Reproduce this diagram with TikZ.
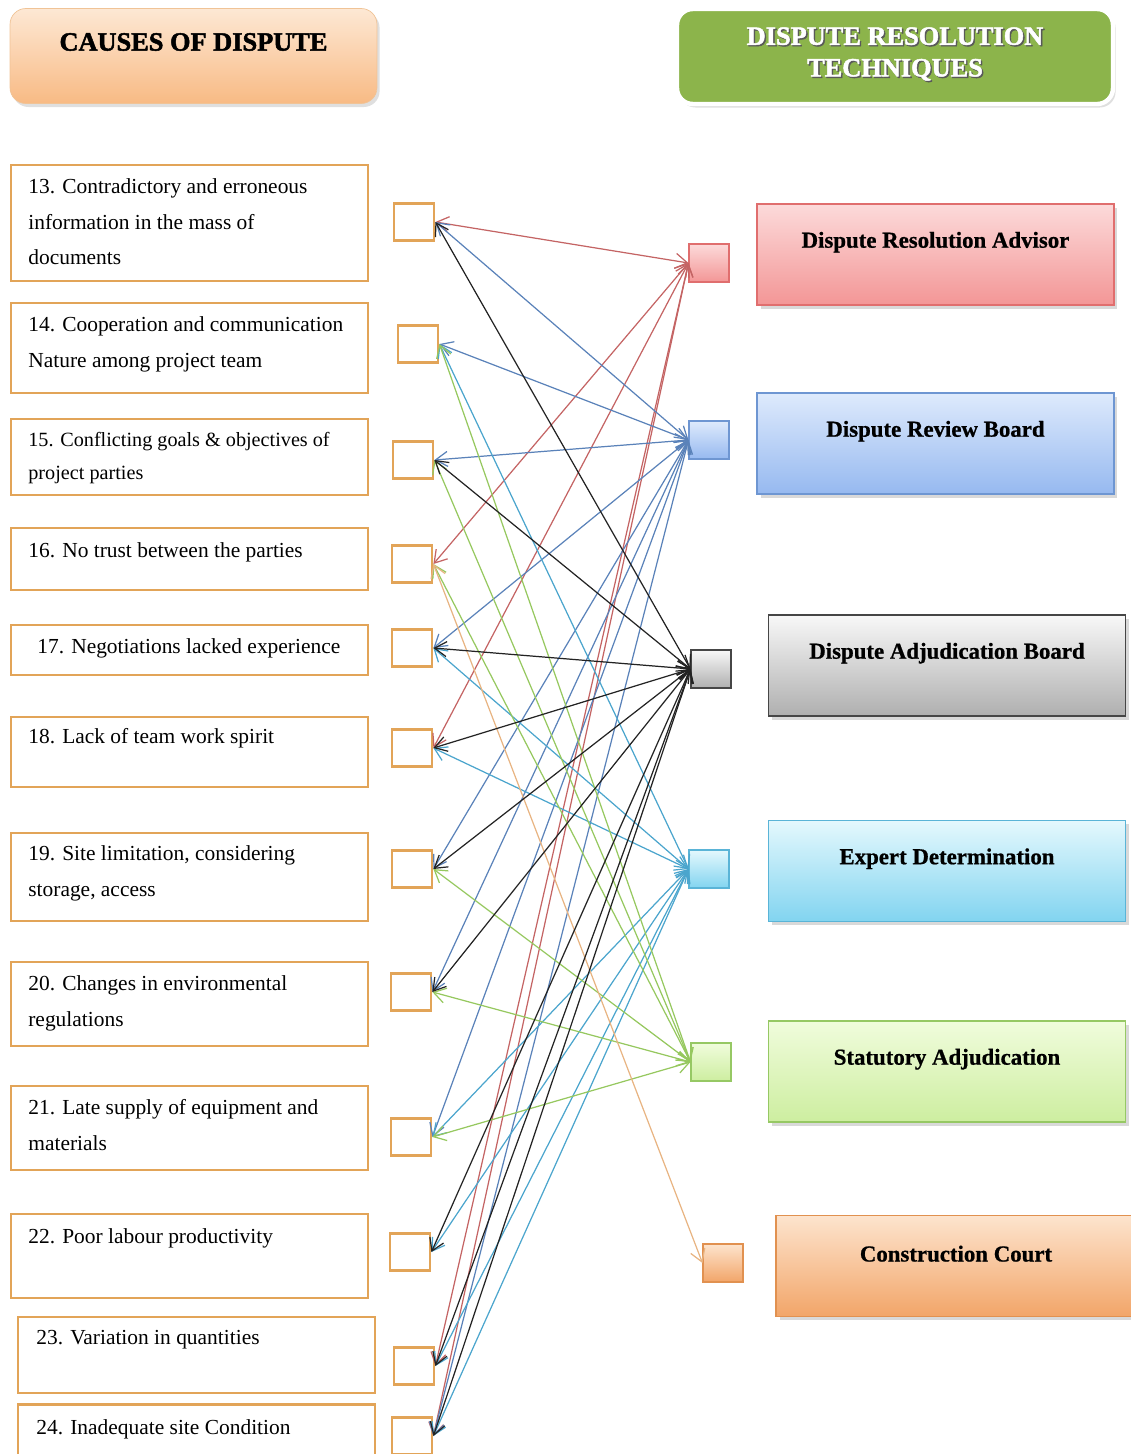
\documentclass[tikz,border=0pt]{standalone}
\usepackage{fontspec}
\setmainfont{Liberation Serif}
\newfontfamily\heavyfont{Liberation Serif}[BoldFeatures={FakeBold=1.8}]
\newfontfamily\boldish{Liberation Serif}[BoldFeatures={FakeBold=0.8}]
\usepackage{xcolor}
\usetikzlibrary{arrows.meta,shadows}

% box colours: line / top / bottom, plus the connector colour
\definecolor{causeor}{RGB}{226,164,88}
\definecolor{hdrlline}{RGB}{240,195,150}
\definecolor{hdrltop}{RGB}{253,232,212}
\definecolor{hdrlbot}{RGB}{248,186,132}
\definecolor{hdrr}{RGB}{140,180,75}
\definecolor{draline}{RGB}{224,110,110}
\definecolor{dratop}{RGB}{252,218,218}
\definecolor{drabot}{RGB}{243,150,150}
\definecolor{dralink}{RGB}{196,100,100}
\definecolor{drbline}{RGB}{110,150,210}
\definecolor{drbtop}{RGB}{222,234,252}
\definecolor{drbbot}{RGB}{150,185,240}
\definecolor{drblink}{RGB}{90,130,185}
\definecolor{dabline}{RGB}{70,70,70}
\definecolor{dabtop}{RGB}{248,248,248}
\definecolor{dabbot}{RGB}{175,175,175}
\definecolor{dablink}{RGB}{35,35,35}
\definecolor{edline}{RGB}{90,180,215}
\definecolor{edtop}{RGB}{228,248,253}
\definecolor{edbot}{RGB}{130,212,240}
\definecolor{edlink}{RGB}{75,165,205}
\definecolor{saline}{RGB}{150,200,100}
\definecolor{satop}{RGB}{240,252,220}
\definecolor{sabot}{RGB}{205,238,160}
\definecolor{salink}{RGB}{150,200,95}
\definecolor{ccline}{RGB}{225,145,80}
\definecolor{cctop}{RGB}{253,228,205}
\definecolor{ccbot}{RGB}{242,165,105}
\definecolor{cclink}{RGB}{232,180,130}

\begin{document}
\begin{tikzpicture}[x=0.02cm, y=-0.02cm,
    hdr/.style={rounded corners=9pt, minimum width=#1, minimum height=1.9cm,
                drop shadow={opacity=0.25, shadow xshift=1.5pt, shadow yshift=-2pt}},
    cause/.style={draw=causeor, line width=1.6pt, fill=white, minimum width=7.14cm, inner sep=0pt},
    ctext/.style={anchor=north west, inner sep=0pt, align=left, font=\fontsize{12.2}{20.4}\selectfont},
    lsq/.style={draw=causeor, line width=1.6pt, fill=white, minimum width=0.8cm,
                minimum height=0.74cm, inner sep=0pt},
    tech/.style={draw=#1line, line width=0.8pt, top color=#1top, bottom color=#1bot,
                 minimum width=7.14cm, minimum height=2.02cm,
                 drop shadow={opacity=0.3, shadow xshift=2pt, shadow yshift=-2pt}},
    rsq/.style={draw=#1line, line width=0.6pt, top color=#1top, bottom color=#1bot,
                minimum width=0.8cm, minimum height=0.76cm, inner sep=0pt},
    ttl/.style={font=\boldish\fontsize{13}{15}\selectfont\bfseries, yshift=7pt},
    htxt/.style={font=\heavyfont\fontsize{15}{18}\selectfont\bfseries},
    link/.style={{Straight Barb[length=2.4mm,width=3mm]}-{Straight Barb[length=2.4mm,width=3mm]},
                 line width=0.7pt},
]
\useasboundingbox (0,0) rectangle (1131,1454);

% ===== Headers =====
\node[hdr=7.34cm, draw=hdrlline, top color=hdrltop, bottom color=hdrlbot] (causehdr) at (193.5,56) {};
\node[htxt] (causettl) at (193.5,42) {CAUSES OF DISPUTE};
\node[hdr=8.72cm, draw=white, line width=2.5pt, fill=hdrr] (techhdr) at (895,56.5) {};
\node[htxt, align=center, text=black!65, xshift=0.8pt, yshift=-0.8pt] (techsh) at (895,54)
     {DISPUTE RESOLUTION\\TECHNIQUES};
\node[htxt, align=center, text=white] (techttl) at (895,54) {DISPUTE RESOLUTION\\TECHNIQUES};

% ===== Causes (left column) =====
\node[cause, minimum height=2.32cm] (c13) at (189.5,223) {};
\node[cause, minimum height=1.8cm]  (c14) at (189.5,348) {};
\node[cause, minimum height=1.52cm] (c15) at (189.5,457) {};
\node[cause, minimum height=1.24cm] (c16) at (189.5,559) {};
\node[cause, minimum height=1.0cm]  (c17) at (189.5,650) {};
\node[cause, minimum height=1.4cm]  (c18) at (189.5,752) {};
\node[cause, minimum height=1.76cm] (c19) at (189.5,877) {};
\node[cause, minimum height=1.68cm] (c20) at (189.5,1004) {};
\node[cause, minimum height=1.68cm] (c21) at (189.5,1128) {};
\node[cause, minimum height=1.68cm] (c22) at (189.5,1256) {};
\node[cause, minimum height=1.52cm] (c23) at (196.5,1355) {};
\node[cause, minimum height=1.3cm]  (c24) at (196.5,1437) {};

\node[ctext] (t13) at (28,178) {13. Contradictory and erroneous\\information in the mass of\\documents};
\node[ctext] (t14) at (28,316) {14. Cooperation and communication\\Nature among project team};
\node[ctext, font=\fontsize{11.5}{18.7}\selectfont] (t15) at (28,432) {15. Conflicting goals \& objectives of\\project parties};
\node[ctext] (t16) at (28,542) {16. No trust between the parties};
\node[ctext] (t17) at (37,638) {17. Negotiations lacked experience};
\node[ctext] (t18) at (28,728) {18. Lack of team work spirit};
\node[ctext] (t19) at (28,845) {19. Site limitation, considering\\storage, access};
\node[ctext] (t20) at (28,975) {20. Changes in environmental\\regulations};
\node[ctext] (t21) at (28,1099) {21. Late supply of equipment and\\materials};
\node[ctext] (t22) at (28,1228) {22. Poor labour productivity};
\node[ctext] (t23) at (36,1330) {23. Variation in quantities};
\node[ctext] (t24) at (36,1419) {24. Inadequate site Condition};

\node[lsq] (s13) at (414,222) {};
\node[lsq] (s14) at (418,344) {};
\node[lsq] (s15) at (413,460) {};
\node[lsq] (s16) at (412,564) {};
\node[lsq] (s17) at (412,648) {};
\node[lsq] (s18) at (412,748) {};
\node[lsq] (s19) at (412,869) {};
\node[lsq] (s20) at (411,992) {};
\node[lsq] (s21) at (411,1137) {};
\node[lsq] (s22) at (410,1252) {};
\node[lsq] (s23) at (414,1366) {};
\node[lsq] (s24) at (412,1436) {};

% ===== Techniques (right column) =====
\node[tech=dra, label={[ttl]center:Dispute Resolution Advisor}] (DRA) at (935.5,254.5) {};
\node[tech=drb, label={[ttl]center:Dispute Review Board}]       (DRB) at (935.5,443.5) {};
\node[tech=dab, label={[ttl]center:Dispute Adjudication Board}] (DAB) at (947,665.5) {};
\node[tech=ed,  label={[ttl]center:Expert Determination}]       (ED)  at (947,871) {};
\node[tech=sa,  label={[ttl]center:Statutory Adjudication}]     (SA)  at (947,1071.5) {};
\node[tech=cc,  minimum width=7.2cm, label={[ttl]center:Construction Court}] (CC) at (956,1266) {};

\node[rsq=dra] (sDRA) at (709,263) {};
\node[rsq=drb] (sDRB) at (709,440) {};
\node[rsq=dab] (sDAB) at (711,669) {};
\node[rsq=ed]  (sED)  at (709,869) {};
\node[rsq=sa]  (sSA)  at (711,1062) {};
\node[rsq=cc]  (sCC)  at (723,1263) {};

% ===== Links: cause <-> technique =====
\foreach \i in {13,16,18,23,24} \draw[link, dralink] (s\i.east) -- (sDRA.west);
\foreach \i in {13,14,15,17,19,20,21,24} \draw[link, drblink] (s\i.east) -- (sDRB.west);
\foreach \i in {14,17,18,21,22,23,24} \draw[link, edlink] (s\i.east) -- (sED.west);
\foreach \i in {14,15,16,19,20,21} \draw[link, salink] (s\i.east) -- (sSA.west);
\draw[link, cclink] (s16.east) -- (sCC.west);
\foreach \i in {13,15,17,18,19,20,22,23,24} \draw[link, dablink] (s\i.east) -- (sDAB.west);

\end{tikzpicture}
\end{document}
